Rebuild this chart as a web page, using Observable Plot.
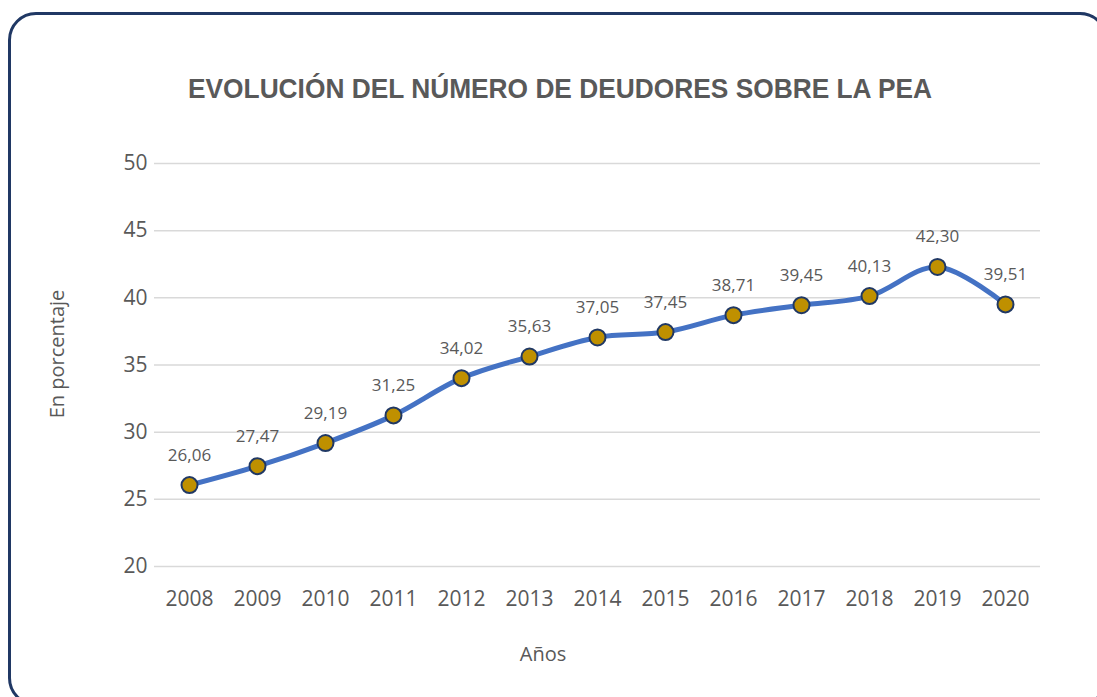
<!DOCTYPE html>
<html>
<head>
<meta charset="utf-8">
<script src="https://cdn.jsdelivr.net/npm/d3@7"></script>
<script src="https://cdn.jsdelivr.net/npm/@observablehq/plot@0.6"></script>
<style>
  html, body { margin: 0; padding: 0; background: #fff; overflow: hidden; }
  #wrap { position: relative; width: 1097px; height: 697px; overflow: hidden; }
  #frame { position: absolute; left: 8px; top: 12px; width: 1100px; height: 694px;
           border: 3px solid #203864; border-radius: 28px; box-sizing: border-box; }
  #chart { position: absolute; left: 0; top: 0; }
  #title { position: absolute; left: 0; top: 0; }
  .lbl { position: absolute; font-family: "Open Sans", sans-serif; color: #595959; font-size: 20px; }
</style>
</head>
<body>
<div id="wrap">
  <div id="frame"></div>
  <div id="chart"></div>
  <svg id="title" width="1097" height="120">
    <text x="188" y="98" textLength="744" lengthAdjust="spacingAndGlyphs"
          font-family="Liberation Sans, Arial, sans-serif" font-weight="bold" font-size="28" fill="#595959">EVOLUCIÓN DEL NÚMERO DE DEUDORES SOBRE LA PEA</text>
  </svg>
  <div class="lbl" id="ylab" style="left:56px; top:354px; transform: translate(-50%,-50%) rotate(-90deg); white-space:nowrap;">En porcentaje</div>
  <div class="lbl" id="xlab" style="left:543px; top:653px; transform: translate(-50%,-50%);">Años</div>
</div>
<script>
const years = ["2008","2009","2010","2011","2012","2013","2014","2015","2016","2017","2018","2019","2020"];
const values = [26.06, 27.47, 29.19, 31.25, 34.02, 35.63, 37.05, 37.45, 38.71, 39.45, 40.13, 42.30, 39.51];
const yTicks = [20, 25, 30, 35, 40, 45, 50];

const data = years.map((y, i) => ({year: y, value: values[i]}));
const fmt = v => v.toFixed(2).replace(".", ",");

const chart = Plot.plot({
  width: 1097,
  height: 697,
  marginLeft: 154,
  marginRight: 57,
  marginTop: 163,
  marginBottom: 131,
  style: {fontFamily: "'Open Sans', sans-serif", fontSize: "21px", color: "#595959", background: "transparent"},
  x: {domain: years, type: "point", padding: 0.5, label: null},
  y: {domain: [20, 50], label: null},
  marks: [
    Plot.gridY(yTicks, {stroke: "#d9d9d9", strokeOpacity: 1, strokeWidth: 1.5}),
    Plot.axisY(yTicks, {tickSize: 0, tickPadding: 7, fill: "#595959", fontSize: 21, label: null}),
    Plot.axisX(years, {tickSize: 0, tickPadding: 25, fill: "#595959", fontSize: 21, label: null}),
    Plot.line(data, {x: "year", y: "value", stroke: "#4472C4", strokeWidth: 5, curve: "catmull-rom"}),
    Plot.dot(data, {x: "year", y: "value", r: 8, fill: "#BF9000", stroke: "#203864", strokeWidth: 2}),
    Plot.text(data, {x: "year", y: "value", text: d => fmt(d.value), dy: -30, fill: "#595959", fontSize: 17})
  ]
});
document.getElementById("chart").appendChild(chart);
</script>
</body>
</html>
